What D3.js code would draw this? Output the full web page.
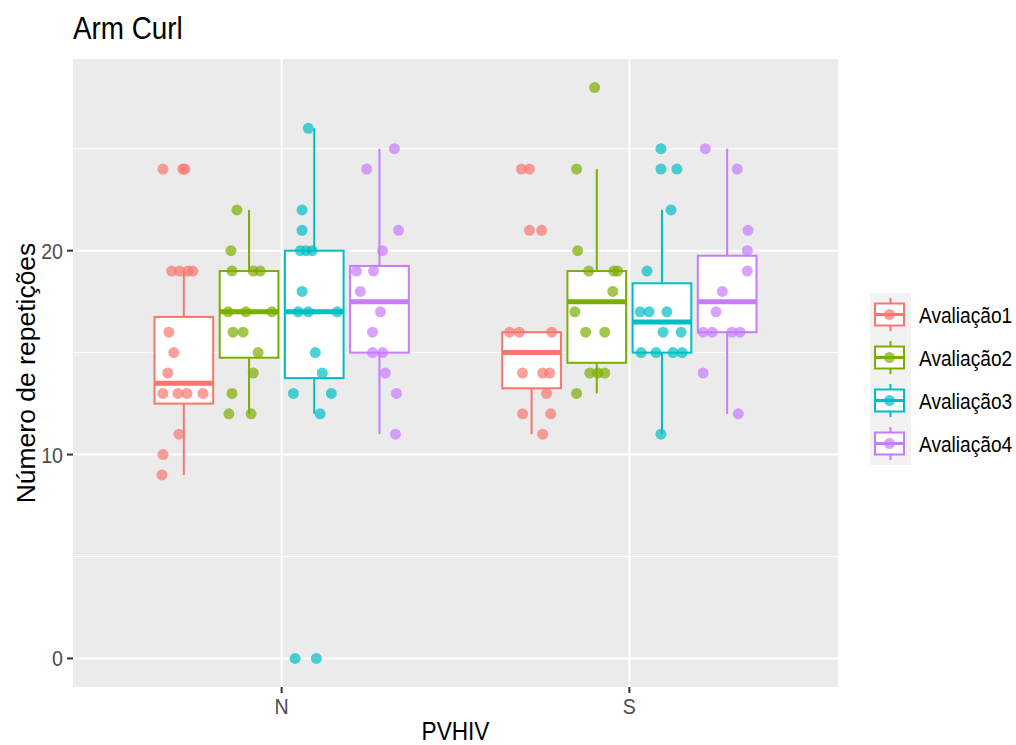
<!DOCTYPE html>
<html>
<head>
<meta charset="utf-8">
<script src="https://cdn.jsdelivr.net/npm/d3@7"></script>
<style>
  body { margin: 0; background: #fff; }
  svg text { font-family: "Liberation Sans", Arial, sans-serif; }
</style>
</head>
<body>
<svg id="base" width="1016" height="745"></svg>
<script>
// categories
const grupos = ["N", "S"];
const avaliacoes = ["Avaliação1", "Avaliação2", "Avaliação3", "Avaliação4"];
const colors = ["#F8766D", "#7CAE00", "#00BFC4", "#C77CFF"];
const yTicks = [0, 10, 20];
const yMinor = [5, 15, 25];

// box stats, one value per avaliacao (N group)
const lowerN = [9, 12, 12, 11];
const q1N = [12.5, 14.75, 13.75, 15];
const medianN = [13.5, 17, 17, 17.5];
const q3N = [16.75, 19, 20, 19.25];
const upperN = [19, 22, 26, 25];

// box stats (S group)
const lowerS = [11, 13, 11, 12];
const q1S = [13.25, 14.5, 15, 16];
const medianS = [15, 17.5, 16.5, 17.5];
const q3S = [16, 19, 18.4, 19.75];
const upperS = [16, 24, 22, 25];

// jittered points: values and horizontal jitter (category units)
const pontosN = [
    [24, 24, 24, 19, 19, 19, 19, 16, 15, 14, 13, 13, 13, 13, 11, 10, 9],
    [22, 20, 19, 19, 19, 17, 17, 17, 16, 16, 15, 14, 13, 12, 12],
    [26, 22, 21, 20, 20, 20, 18, 17, 17, 17, 15, 14, 13, 13, 12, 0, 0],
    [25, 24, 21, 20, 19, 19, 18, 17, 16, 15, 15, 14, 13, 11]
];
const jitterN = [
    [-0.060, -0.003, 0.003, -0.035, -0.012, 0.012, 0.026, -0.043, -0.029, -0.046, -0.060, -0.017, 0.009, 0.055, -0.014, -0.060, -0.063],
    [-0.035, -0.052, -0.049, 0.012, 0.032, -0.060, -0.009, 0.066, -0.046, -0.017, 0.026, 0.012, -0.049, -0.058, 0.006],
    [-0.017, -0.035, -0.035, -0.040, -0.023, -0.006, -0.035, -0.046, -0.017, 0.066, 0.003, 0.023, -0.060, 0.049, 0.017, -0.055, 0.006],
    [0.043, -0.037, 0.055, 0.009, -0.066, -0.017, -0.055, 0.003, -0.020, -0.020, 0.009, 0.017, 0.049, 0.046]
];
const pontosS = [
    [24, 24, 21, 21, 16, 16, 16, 14, 14, 14, 13, 12, 12, 11],
    [28, 24, 20, 19, 19, 19, 18, 17, 16, 16, 14, 14, 14, 13],
    [25, 24, 24, 22, 19, 17, 17, 17, 16, 16, 15, 15, 15, 15, 11],
    [25, 24, 21, 20, 19, 18, 17, 16, 16, 16, 16, 14, 12]
];
const jitterS = [
    [-0.029, -0.006, -0.006, 0.029, -0.063, -0.035, 0.058, -0.026, 0.032, 0.052, 0.043, -0.026, 0.055, 0.032],
    [-0.006, -0.058, -0.055, -0.023, 0.049, 0.060, 0.046, -0.063, -0.032, 0.023, -0.020, 0.003, 0.023, -0.058],
    [-0.003, -0.003, 0.043, 0.026, -0.043, -0.063, -0.037, 0.014, 0.003, 0.055, -0.060, -0.017, 0.032, 0.058, -0.003],
    [-0.063, 0.029, 0.060, 0.058, 0.058, -0.014, -0.032, -0.069, -0.043, 0.014, 0.037, -0.069, 0.032]
];

(function () {
    const base = d3.select("#base");
    const panel = { left: 73, right: 838, top: 59, bottom: 687 };
    const sx = 0.87; // text looks squeezed horizontally

    const x = d3.scaleLinear().domain([0.4, 2.6]).range([panel.left, panel.right]);
    const y = d3.scaleLinear().domain([-1.4, 29.4]).range([panel.bottom, panel.top]);

    const slot = 0.75 / avaliacoes.length;
    const boxW = (x(slot) - x(0)) * 0.9;
    const center = (g, i) => g + 1 + (i - 1.5) * slot;

    function label(parent, tx, ty, str, size, anchor, color) {
        return parent.append("text")
            .attr("transform", `translate(${tx},${ty}) scale(${sx},1)`)
            .attr("text-anchor", anchor)
            .attr("font-size", size)
            .attr("fill", color)
            .text(str);
    }

    // panel + grid
    base.append("rect").attr("x", panel.left).attr("y", panel.top)
        .attr("width", panel.right - panel.left).attr("height", panel.bottom - panel.top)
        .attr("fill", "#EBEBEB");

    base.selectAll(".minor").data(yMinor).enter().append("line")
        .attr("x1", panel.left).attr("x2", panel.right)
        .attr("y1", d => y(d)).attr("y2", d => y(d))
        .attr("stroke", "#fff").attr("stroke-width", 1);
    base.selectAll(".major").data(yTicks).enter().append("line")
        .attr("x1", panel.left).attr("x2", panel.right)
        .attr("y1", d => y(d)).attr("y2", d => y(d))
        .attr("stroke", "#fff").attr("stroke-width", 2);
    base.selectAll(".vmajor").data(grupos).enter().append("line")
        .attr("x1", (d, i) => x(i + 1)).attr("x2", (d, i) => x(i + 1))
        .attr("y1", panel.top).attr("y2", panel.bottom)
        .attr("stroke", "#fff").attr("stroke-width", 2);

    // boxes
    const stats = [
        { lower: lowerN, q1: q1N, med: medianN, q3: q3N, upper: upperN },
        { lower: lowerS, q1: q1S, med: medianS, q3: q3S, upper: upperS }
    ];
    const boxes = [];
    stats.forEach((s, g) => {
        avaliacoes.forEach((a, i) => {
            boxes.push({ g: g, i: i, lower: s.lower[i], q1: s.q1[i], med: s.med[i], q3: s.q3[i], upper: s.upper[i] });
        });
    });

    const bx = base.selectAll(".box").data(boxes).enter().append("g").attr("class", "box");
    bx.append("line")
        .attr("x1", d => x(center(d.g, d.i))).attr("x2", d => x(center(d.g, d.i)))
        .attr("y1", d => y(d.upper)).attr("y2", d => y(d.q3))
        .attr("stroke", d => colors[d.i]).attr("stroke-width", 2);
    bx.append("line")
        .attr("x1", d => x(center(d.g, d.i))).attr("x2", d => x(center(d.g, d.i)))
        .attr("y1", d => y(d.q1)).attr("y2", d => y(d.lower))
        .attr("stroke", d => colors[d.i]).attr("stroke-width", 2);
    bx.append("rect")
        .attr("x", d => x(center(d.g, d.i)) - boxW / 2)
        .attr("y", d => y(d.q3))
        .attr("width", boxW)
        .attr("height", d => y(d.q1) - y(d.q3))
        .attr("fill", "#fff")
        .attr("stroke", d => colors[d.i]).attr("stroke-width", 2);
    bx.append("line")
        .attr("x1", d => x(center(d.g, d.i)) - boxW / 2)
        .attr("x2", d => x(center(d.g, d.i)) + boxW / 2)
        .attr("y1", d => y(d.med)).attr("y2", d => y(d.med))
        .attr("stroke", d => colors[d.i]).attr("stroke-width", 5);

    // points
    const pts = [];
    [[pontosN, jitterN], [pontosS, jitterS]].forEach(([vals, jit], g) => {
        vals.forEach((arr, i) => {
            arr.forEach((v, k) => pts.push({ g: g, i: i, v: v, j: jit[i][k] }));
        });
    });
    base.selectAll(".pt").data(pts).enter().append("circle")
        .attr("cx", d => x(center(d.g, d.i) + d.j))
        .attr("cy", d => y(d.v))
        .attr("r", 5.5)
        .attr("fill", d => colors[d.i])
        .attr("fill-opacity", 0.7);

    // axes
    yTicks.forEach(t => {
        base.append("line").attr("x1", panel.left - 6).attr("x2", panel.left)
            .attr("y1", y(t)).attr("y2", y(t)).attr("stroke", "#333").attr("stroke-width", 2);
        label(base, panel.left - 10, y(t) + 8, t, 22.5, "end", "#4D4D4D");
    });
    grupos.forEach((gname, g) => {
        base.append("line").attr("x1", x(g + 1)).attr("x2", x(g + 1))
            .attr("y1", panel.bottom).attr("y2", panel.bottom + 6).attr("stroke", "#333").attr("stroke-width", 2);
        label(base, x(g + 1), 714, gname, 22.5, "middle", "#4D4D4D");
    });

    label(base, (panel.left + panel.right) / 2, 740, "PVHIV", 26, "middle", "#000");
    base.append("text")
        .attr("transform", `translate(35,${(panel.top + panel.bottom) / 2}) rotate(-90)`)
        .attr("text-anchor", "middle").attr("font-size", 26.5).attr("fill", "#000")
        .text("Número de repetições");
    label(base, panel.left, 39, "Arm Curl", 32, "start", "#000");

    // legend
    const leg = base.append("g").attr("id", "legend");
    const keyH = 43, keyX = 870, keyY = 293, keyW = 41;
    const items = leg.selectAll("g").data(avaliacoes).enter().append("g")
        .attr("transform", (d, i) => `translate(${keyX},${keyY + i * keyH})`);
    items.append("rect").attr("width", keyW).attr("height", keyH).attr("fill", "#F2F2F2");
    items.append("line").attr("x1", keyW / 2).attr("x2", keyW / 2).attr("y1", 5).attr("y2", keyH - 5)
        .attr("stroke", (d, i) => colors[i]).attr("stroke-width", 2);
    items.append("rect").attr("x", 5).attr("y", keyH / 2 - 11).attr("width", keyW - 12).attr("height", 22)
        .attr("fill", "#fff").attr("stroke", (d, i) => colors[i]).attr("stroke-width", 2);
    items.append("line").attr("x1", 5).attr("x2", keyW - 7).attr("y1", keyH / 2).attr("y2", keyH / 2)
        .attr("stroke", (d, i) => colors[i]).attr("stroke-width", 3);
    items.append("circle").attr("cx", keyW / 2 - 1).attr("cy", keyH / 2).attr("r", 5.5)
        .attr("fill", (d, i) => colors[i]).attr("fill-opacity", 0.7);
    items.each(function (d) {
        label(d3.select(this), keyW + 8, keyH / 2 + 8, d, 22, "start", "#000");
    });
})();
</script>
</body>
</html>
